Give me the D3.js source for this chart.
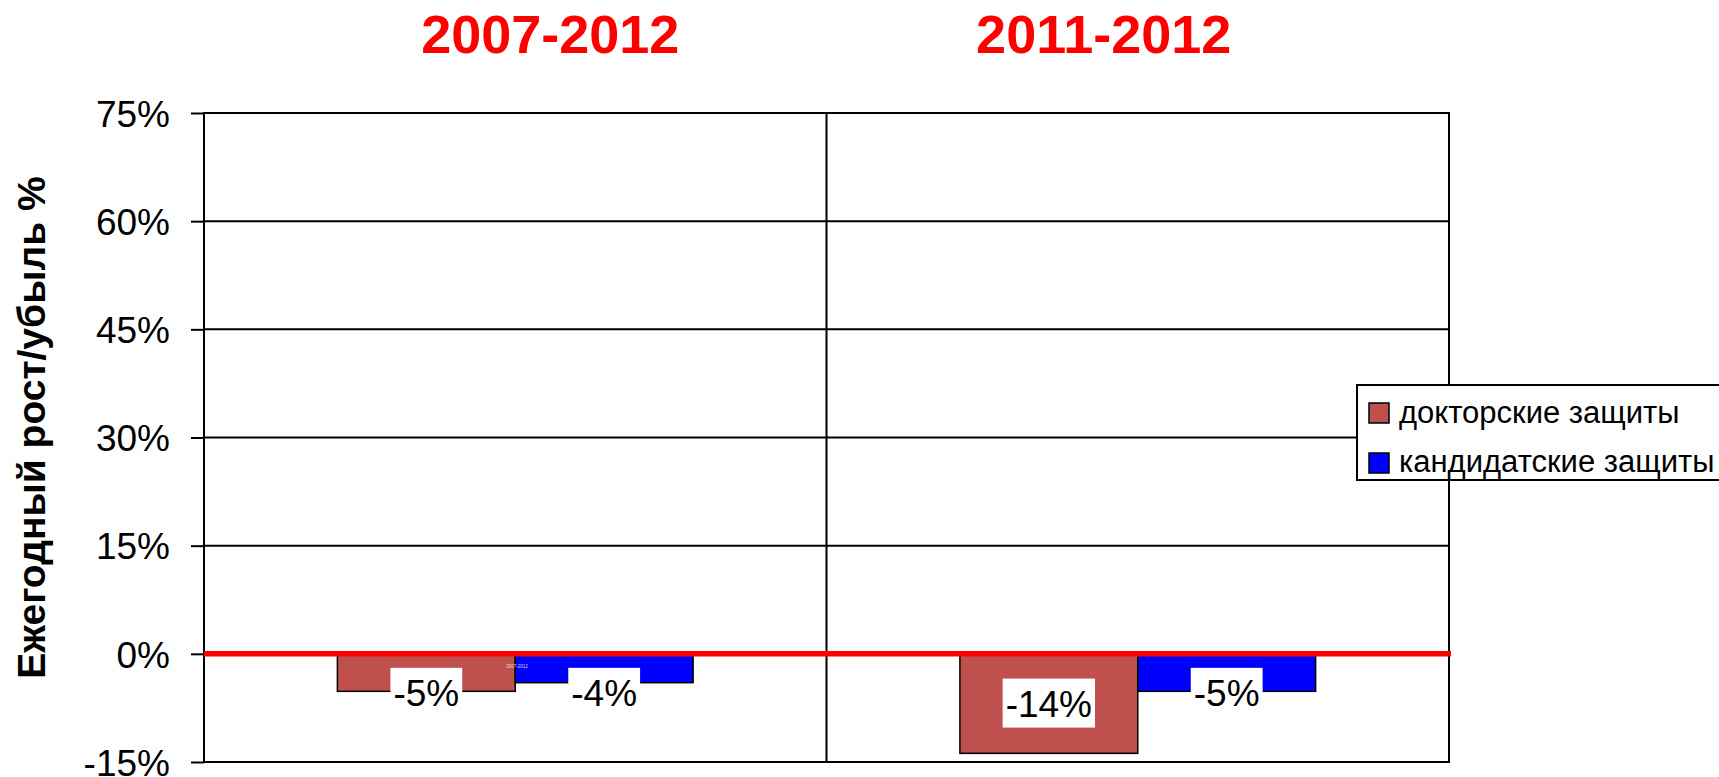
<!DOCTYPE html>
<html>
<head>
<meta charset="utf-8">
<script src="https://cdn.jsdelivr.net/npm/d3@7"></script>
<style>
  html, body { margin: 0; padding: 0; background: #fff; }
  svg { display: block; font-family: "Liberation Sans", Arial, sans-serif; }
</style>
</head>
<body>
<svg id="chart" width="1719" height="777"></svg>
<script>
// ---- data ----
const categories = ["2007-2012", "2011-2012"];
const seriesNames = ["докторские защиты", "кандидатские защиты"];
const doctoral = [-5.2, -13.8];
const candidate = [-4.0, -5.2];
const yTicks = [-15, 0, 15, 30, 45, 60, 75];
const yTitle = "Ежегодный рост/убыль %";
const tinyNote = "2007-2012";
const colors = ["#C0504D", "#0000FF"];

(function () {
const svg = d3.select("#chart");
const pL = 204, pR = 1449, pT = 113, pB = 762;

const y = d3.scaleLinear().domain([-15, 75]).range([pB, pT]);
const x0 = d3.scaleBand().domain(categories).range([pL, pR]).padding(0);
const band = x0.bandwidth();
const groupW = band * 2 / 3.5; // Excel gap width 150%
const x1 = d3.scaleBand().domain(seriesNames)
  .range([(band - groupW) / 2, (band + groupW) / 2]).padding(0);

// horizontal gridlines
svg.append("g").selectAll("line").data(yTicks).join("line")
  .attr("x1", pL).attr("x2", pR)
  .attr("y1", d => y(d)).attr("y2", d => y(d))
  .attr("stroke", "#000").attr("stroke-width", 2);

// vertical lines: category separators + right border
const vLines = categories.slice(1).map(c => x0(c)).concat([pR]);
svg.append("g").selectAll("line").data(vLines).join("line")
  .attr("x1", d => d).attr("x2", d => d)
  .attr("y1", pT - 1).attr("y2", pB + 1)
  .attr("stroke", "#000").attr("stroke-width", 2);

// y axis
const yAxis = svg.append("g").attr("transform", `translate(${pL},0)`)
  .call(d3.axisLeft(y).tickValues(yTicks).tickSize(13).tickPadding(21)
    .tickFormat(d => d + "%"));
yAxis.select(".domain").attr("stroke", "#000").attr("stroke-width", 2)
  .attr("d", `M0,${pT - 1}V${pB + 1}`);
yAxis.selectAll(".tick line").attr("stroke", "#000").attr("stroke-width", 2);
yAxis.selectAll(".tick text")
  .attr("font-size", 37).attr("fill", "#000")
  .attr("font-family", "'Liberation Sans', Arial, sans-serif")
  .attr("dy", "0.36em");

// y title
svg.append("text")
  .attr("transform", `translate(45,${(pT + pB) / 2 - 10}) rotate(-90)`)
  .attr("text-anchor", "middle")
  .attr("font-size", 39).attr("font-weight", "bold").attr("fill", "#000")
  .text(yTitle);

// bars
const rows = categories.map((c, i) => ({ cat: c, vals: [doctoral[i], candidate[i]] }));
const groups = svg.append("g").selectAll("g").data(rows).join("g")
  .attr("transform", d => `translate(${x0(d.cat)},0)`);

groups.selectAll("rect").data(d => d.vals.map((v, j) => ({ v, s: seriesNames[j], j })))
  .join("rect")
  .attr("x", d => x1(d.s))
  .attr("width", x1.bandwidth())
  .attr("y", d => Math.min(y(0), y(d.v)))
  .attr("height", d => Math.abs(y(d.v) - y(0)))
  .attr("fill", d => colors[d.j])
  .attr("stroke", "#000").attr("stroke-width", 1.5);

// zero line
svg.append("line")
  .attr("x1", pL).attr("x2", pR + 2)
  .attr("y1", y(0)).attr("y2", y(0))
  .attr("stroke", "#FF0000").attr("stroke-width", 5.5);

// tiny artefact text
svg.append("text")
  .attr("x", x0(categories[0]) + x1(seriesNames[1]) - 9)
  .attr("y", y(0) + 14)
  .attr("font-size", 4.5).attr("fill", "#dddddd")
  .text(tinyNote);

// labels with white boxes
const labelFont = 37;
groups.each(function (d) {
  const g = d3.select(this);
  d.vals.forEach((v, j) => {
    const cx = x1(seriesNames[j]) + x1.bandwidth() / 2;
    const mid = (y(0) + y(v)) / 2;
    const cy = Math.max(mid, y(0) + 39);
    const t = g.append("text")
      .attr("x", cx).attr("y", cy + 13.5)
      .attr("text-anchor", "middle")
      .attr("font-size", labelFont).attr("fill", "#000")
      .text(Math.round(v) + "%");
    const bb = t.node().getBBox();
    g.insert("rect", function () { return t.node(); })
      .attr("x", bb.x - 3).attr("width", bb.width + 6)
      .attr("y", cy - 25).attr("height", 49)
      .attr("fill", "#fff");
  });
});

// category titles
svg.append("g").selectAll("text").data(categories).join("text")
  .attr("x", (d, i) => x0(d) + band / 2 + [35, -34][i])
  .attr("y", 53)
  .attr("text-anchor", "middle")
  .attr("font-size", 54).attr("font-weight", "bold").attr("fill", "#FF0000")
  .text(d => d);

// legend
const lg = svg.append("g");
lg.append("rect")
  .attr("x", 1357).attr("y", 385).attr("width", 380).attr("height", 95)
  .attr("fill", "#fff").attr("stroke", "#000").attr("stroke-width", 2);
seriesNames.forEach((s, i) => {
  lg.append("rect")
    .attr("x", 1369).attr("y", 403 + i * 50).attr("width", 20).attr("height", 20)
    .attr("fill", colors[i]).attr("stroke", "#000").attr("stroke-width", 1.5);
  lg.append("text")
    .attr("x", 1399).attr("y", 423 + i * 49)
    .attr("font-size", 31).attr("fill", "#000")
    .text(s);
});
})();
</script>
</body>
</html>
